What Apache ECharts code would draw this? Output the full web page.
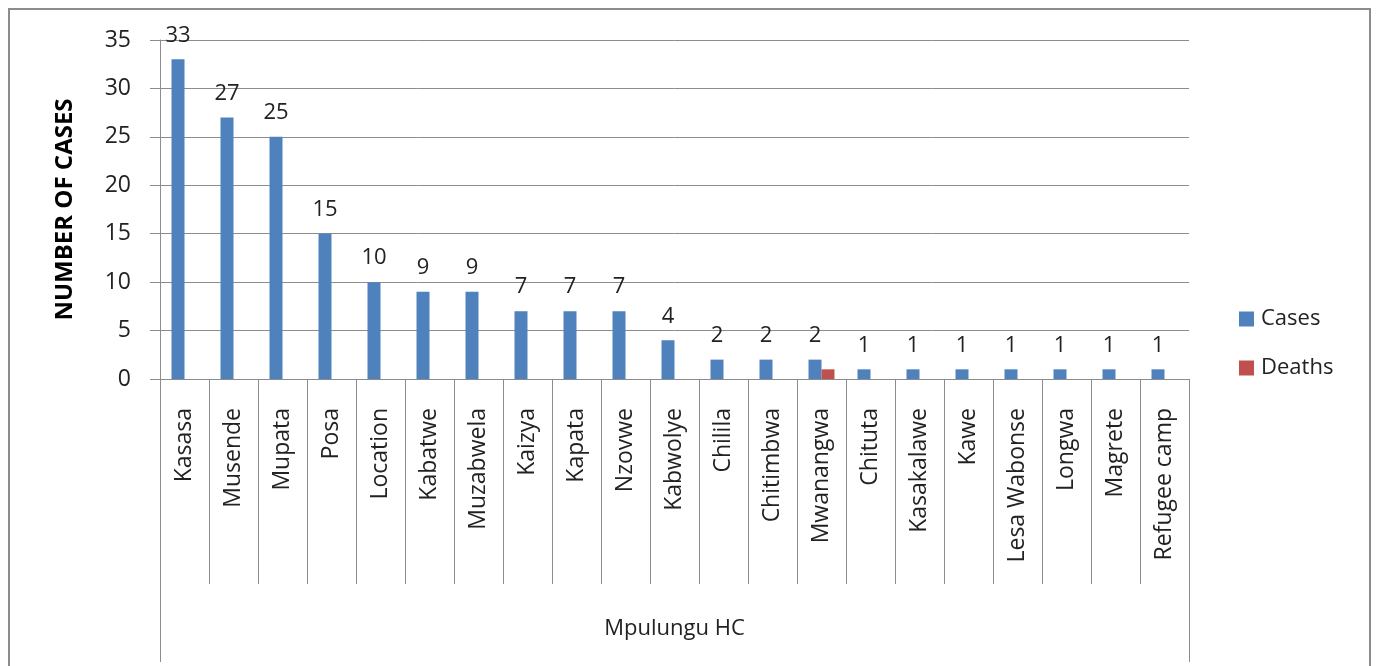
<!DOCTYPE html>
<html>
<head>
<meta charset="utf-8">
<script src="https://cdn.jsdelivr.net/npm/echarts@6/dist/echarts.min.js"></script>
<style>html,body{margin:0;padding:0;background:#fff}#c{width:1377px;height:666px}</style>
</head>
<body>
<div id="c"></div>
<script>
const categories = ['Kasasa','Musende','Mupata','Posa','Location','Kabatwe','Muzabwela','Kaizya','Kapata','Nzovwe','Kabwolye','Chilila','Chitimbwa','Mwanangwa','Chituta','Kasakalawe','Kawe','Lesa Wabonse','Longwa','Magrete','Refugee camp'];
const groupLabels = ['Mpulungu HC'];
const cases = [33,27,25,15,10,9,9,7,7,7,4,2,2,2,1,1,1,1,1,1,1];
const deaths = [0,0,0,0,0,0,0,0,0,0,0,0,0,1,0,0,0,0,0,0,0];
const yTicks = {min:0, max:35, interval:5};

const FONT = '"Open Sans", sans-serif';
const GRAY = '#8c8c8c';
const chart = echarts.init(document.getElementById('c'));
chart.setOption({
  animation:false,
  backgroundColor:'#fff',
  textStyle:{fontFamily:FONT},
  graphic:[{type:'rect',shape:{x:9,y:9,width:1361,height:700},style:{fill:'none',stroke:GRAY,lineWidth:2},silent:true}],
  grid:{left:160,right:188,top:40,bottom:287,containLabel:false},
  legend:{
    orient:'vertical', left:1234, top:303, itemWidth:15, itemHeight:15, itemGap:27,
    icon:'rect',
    textStyle:{fontFamily:FONT,fontSize:22,color:'#222',padding:[0,0,0,2]},
    data:['Cases','Deaths']
  },
  xAxis:[{
    type:'category', data:categories, position:'bottom',
    axisLine:{show:true,lineStyle:{color:GRAY,width:1}},
    axisTick:{show:true,interval:0,length:205,lineStyle:{color:GRAY}},
    axisLabel:{interval:0,rotate:90,margin:29,fontFamily:FONT,fontSize:23,color:'#222'},
    splitLine:{show:false}
  },{
    type:'category', data:groupLabels, position:'bottom', gridIndex:0,
    axisLine:{show:true,lineStyle:{color:GRAY,width:1}},
    axisTick:{show:true,length:283,lineStyle:{color:GRAY}},
    axisLabel:{margin:239,fontFamily:FONT,fontSize:22,color:'#222'},
    splitLine:{show:false}
  }],
  yAxis:{
    type:'value', min:yTicks.min, max:yTicks.max, interval:yTicks.interval,
    name:'NUMBER OF CASES', nameLocation:'middle', nameGap:83,
    nameTextStyle:{fontFamily:FONT,fontSize:24,fontWeight:'bold',color:'#000'},
    axisLine:{show:true,lineStyle:{color:GRAY}},
    axisTick:{show:true,length:10,lineStyle:{color:GRAY}},
    axisLabel:{margin:29,fontFamily:FONT,fontSize:23,color:'#222'},
    splitLine:{show:true,lineStyle:{color:GRAY,width:1}}
  },
  series:[{
    name:'Cases', type:'bar', data:cases, barWidth:13, barGap:'0%',
    itemStyle:{color:'#4F81BD'},
    label:{show:true,position:'top',distance:13,fontFamily:FONT,fontSize:22,color:'#222'}
  },{
    name:'Deaths', type:'bar', data:deaths, barWidth:13, barGap:'0%',
    itemStyle:{color:'#C0504D'},
    label:{show:false}
  }]
});
</script>
</body>
</html>
